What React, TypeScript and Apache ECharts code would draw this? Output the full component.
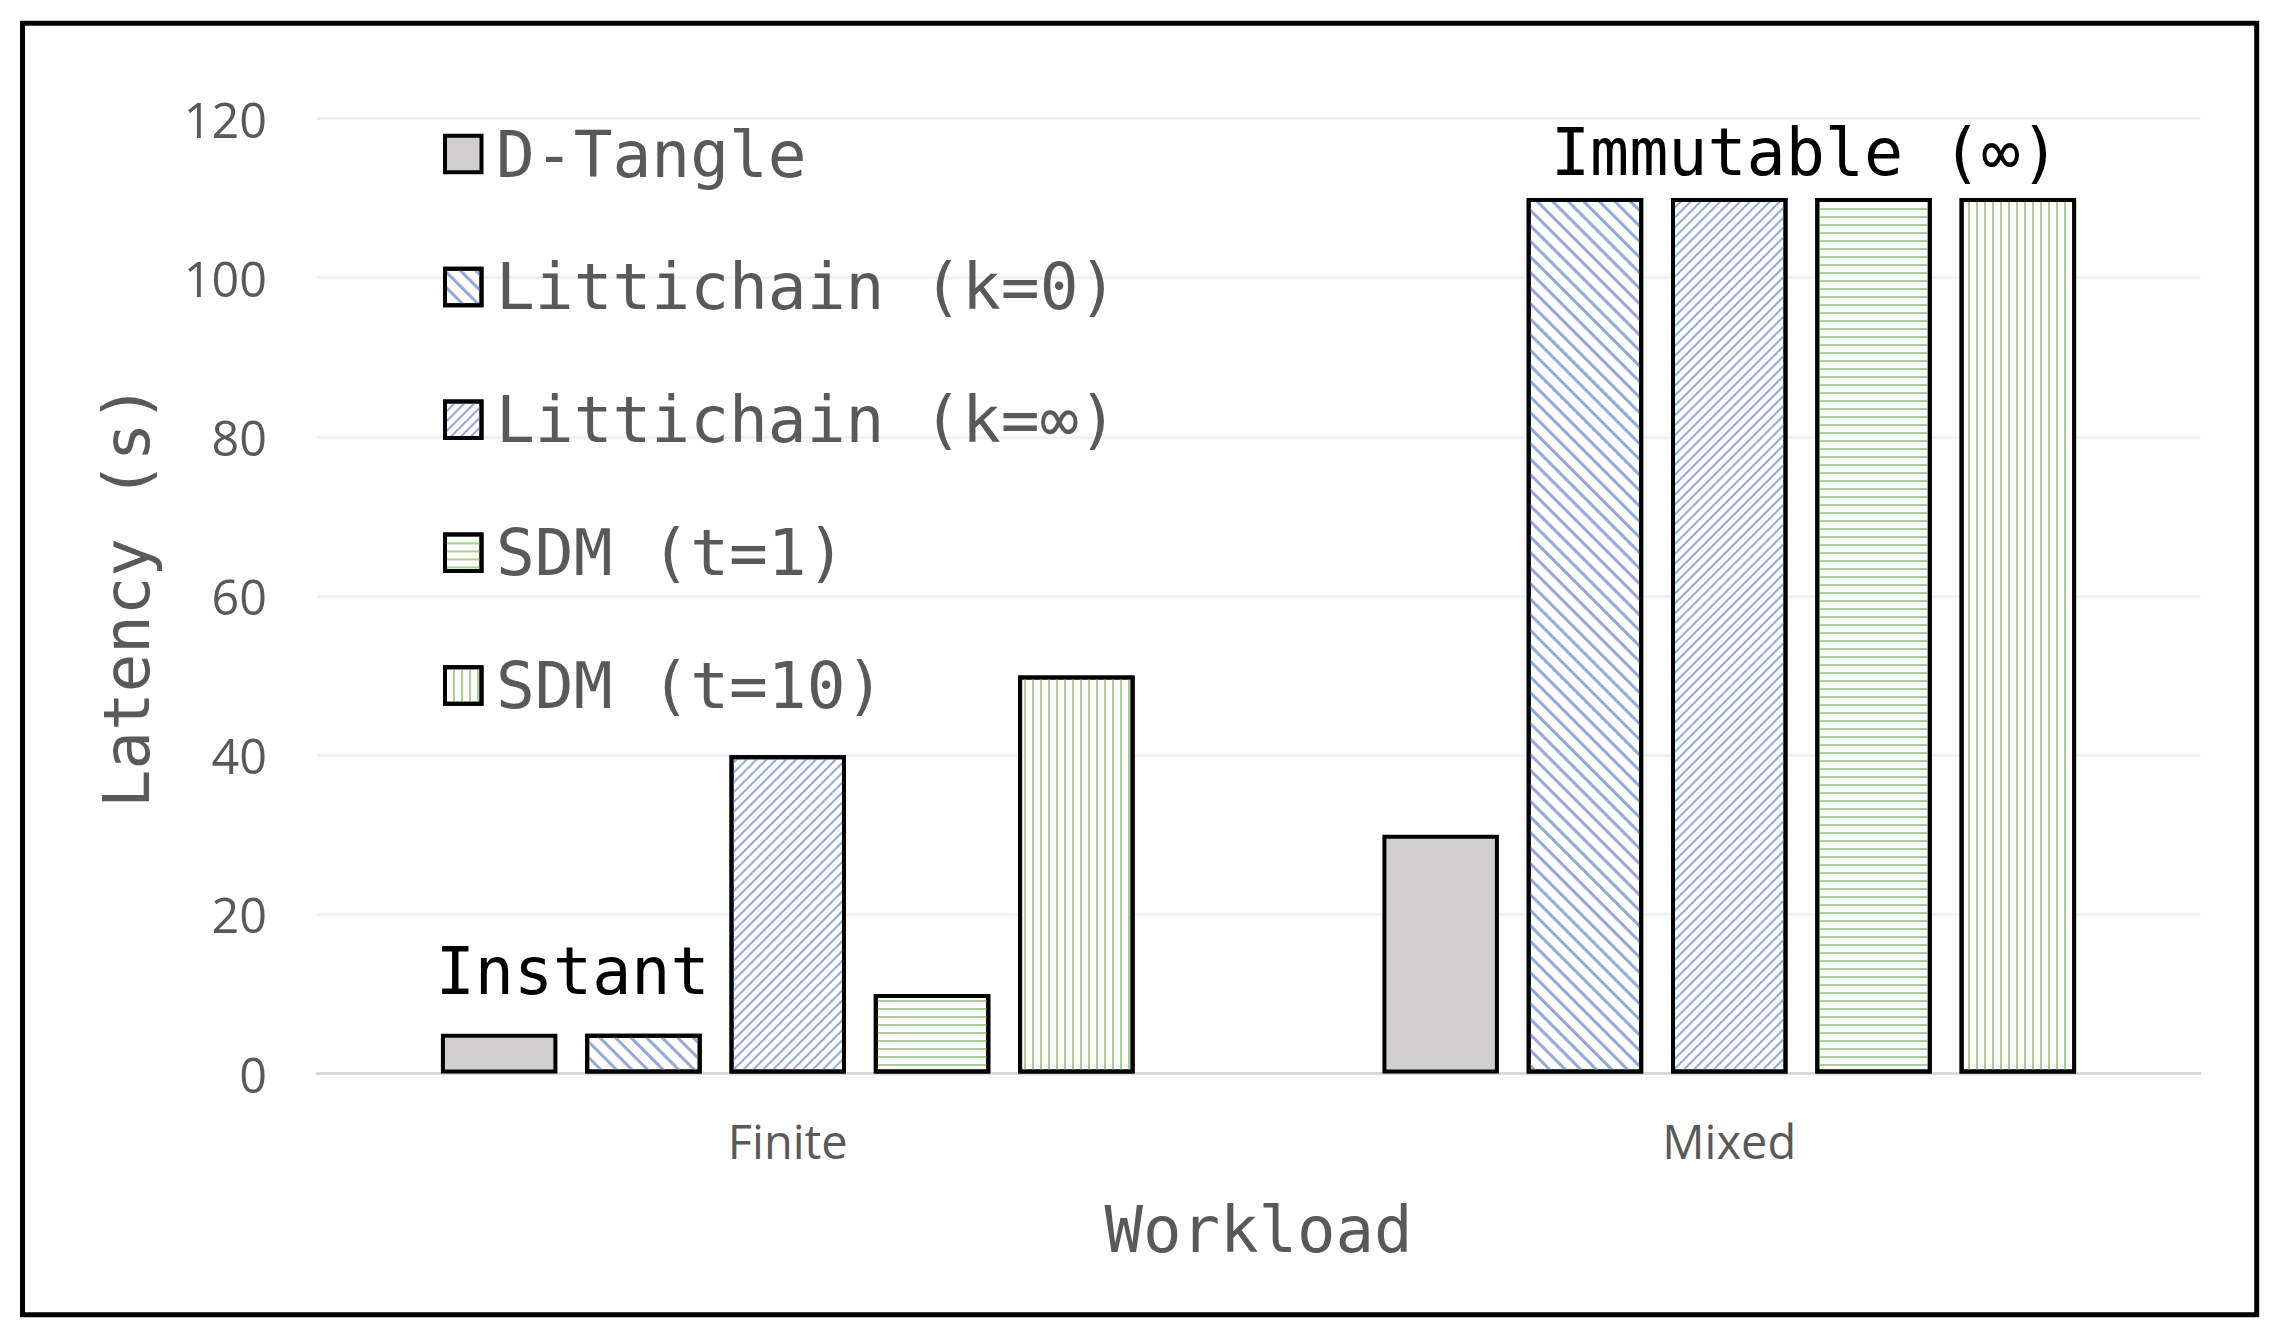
import React, { useEffect, useRef } from 'react';
import * as echarts from 'echarts';

// ---- data ----
const categories = ['Finite', 'Mixed'];
const seriesNames = ['D-Tangle', 'Littichain (k=0)', 'Littichain (k=∞)', 'SDM (t=1)', 'SDM (t=10)'];
const dTangle = [5, 30];
const littichainK0 = [5, 110];
const littichainKInf = [40, 110];
const sdmT1 = [10, 110];
const sdmT10 = [50, 110];
const yMin = 0;
const yMax = 120;
const yInterval = 20;
const xAxisTitle = 'Workload';
const yAxisTitle = 'Latency (s)';
// annotation texts attached to a (series, category) bar
const annotations = [
  { seriesIndex: 0, categoryIndex: 0, text: 'Instant' },
  { seriesIndex: 2, categoryIndex: 1, text: 'Immutable (∞)' },
];

export default function App() {
  const ref = useRef<HTMLDivElement>(null);

  useEffect(() => {
    const chart = echarts.init(ref.current!, null, { renderer: 'svg' });
    const mono = 'DejaVu Sans Mono';
    const sans = 'Open Sans';
    const grey = '#595959';
    const BLUE = '#8faadc';
    const GREEN = '#a9d18e';

    const values = [dTangle, littichainK0, littichainKInf, sdmT1, sdmT10];
    const fills = ['#d0cece', '#ffffff', '#ffffff', '#ffffff', '#ffffff'];
    const decals: any[] = [
      null,
      { symbol: 'rect', symbolSize: 1, color: BLUE, dashArrayX: [1, 0], dashArrayY: [3, 8], rotation: Math.PI / 4 },
      { symbol: 'rect', symbolSize: 1, color: BLUE, dashArrayX: [1, 0], dashArrayY: [2, 5], rotation: -Math.PI / 4 },
      { symbol: 'rect', symbolSize: 1, color: GREEN, dashArrayX: [1, 0], dashArrayY: [2, 6], rotation: 0 },
      { symbol: 'rect', symbolSize: 1, color: GREEN, dashArrayX: [2, 6], dashArrayY: [1, 0], rotation: 0 },
    ];
    const annoStyle: Record<string, { offset: number[]; distance: number }> = {
      'Instant': { offset: [73.5, 0], distance: 31 },
      'Immutable (∞)': { offset: [76, 0], distance: 14.4 },
    };

    const series = values.map((vals, i) => {
      const itemStyle: any = { color: fills[i], borderColor: '#000', borderWidth: 4 };
      if (decals[i]) itemStyle.decal = decals[i];
      return {
        type: 'bar',
        name: seriesNames[i],
        barWidth: 116.5,
        barGap: '23.86%',
        itemStyle,
        emphasis: { disabled: true },
        data: vals.map((v, j) => {
          const a = annotations.find((x) => x.seriesIndex === i && x.categoryIndex === j);
          if (!a) return v;
          const st = annoStyle[a.text];
          return {
            value: v,
            label: {
              show: true,
              position: 'top',
              formatter: a.text,
              color: '#000',
              fontFamily: mono,
              fontSize: 65,
              lineHeight: 62,
              distance: st.distance,
              offset: st.offset,
            },
          };
        }),
      };
    });

    chart.setOption({
      animation: false,
      backgroundColor: '#ffffff',
      grid: { left: 317, top: 118.5, width: 1883, height: 955, containLabel: false, outerBoundsMode: 'none' },
      legend: {
        orient: 'vertical',
        left: 443,
        top: 121.5,
        padding: 0,
        itemWidth: 36.5,
        itemHeight: 36.5,
        itemGap: 67.9,
        icon: 'rect',
        itemStyle: { borderColor: '#000', borderWidth: 4 },
        textStyle: { color: grey, fontFamily: mono, fontSize: 64.5, lineHeight: 63, padding: [0, 0, 0, 9.5] },
        data: seriesNames,
      },
      xAxis: {
        type: 'category',
        data: categories,
        name: xAxisTitle,
        nameLocation: 'middle',
        nameGap: 125.2,
        nameTextStyle: { color: grey, fontFamily: mono, fontSize: 64, lineHeight: 63 },
        axisLine: { show: true, lineStyle: { color: '#d9d9d9', width: 3 } },
        axisTick: { show: false },
        axisLabel: { color: grey, fontFamily: sans, fontSize: 47, margin: 44 },
        splitLine: { show: false },
      },
      yAxis: {
        type: 'value',
        min: yMin,
        max: yMax,
        interval: yInterval,
        name: yAxisTitle,
        nameLocation: 'middle',
        nameRotate: 90,
        nameGap: 159.5,
        nameTextStyle: { color: grey, fontFamily: mono, fontSize: 64, lineHeight: 62 },
        axisLine: { show: false },
        axisTick: { show: false },
        axisLabel: { color: grey, fontFamily: sans, fontSize: 48.5, margin: 50 },
        splitLine: { show: true, lineStyle: { color: '#ebeff7', width: 2.5 } },
      },
      series,
      graphic: [
        {
          type: 'rect',
          silent: true,
          z: 100,
          shape: { x: 22.5, y: 23.3, width: 2234.2, height: 1291.5 },
          style: { fill: 'none', stroke: '#000', lineWidth: 5 },
        },
      ],
    });

    return () => chart.dispose();
  }, []);

  return (
    <div
      ref={ref}
      style={{ position: 'absolute', left: 0, top: 0, width: 2280, height: 1343 }}
    />
  );
}
